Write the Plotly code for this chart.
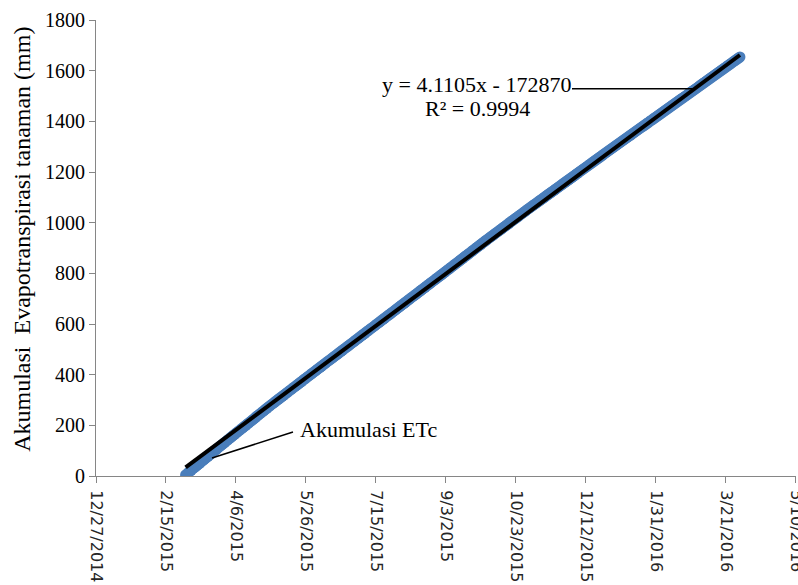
import numpy as np
import pandas as pd
import plotly.graph_objects as go

# Daily crop evapotranspiration (mm/day), one list per month
etc_2015_03 = [4.1, 4.6, 4.9, 4.4, 4.7, 5.0, 4.5, 4.2, 4.8, 4.6, 4.3, 4.9, 4.7, 4.5, 4.4, 4.8,
               4.6, 4.2, 4.7, 4.9, 4.5, 4.6, 4.3, 4.8, 4.7, 4.4, 4.6, 4.5, 4.9, 4.4, 4.6]
etc_2015_04 = [4.3, 4.6, 4.5, 4.7, 4.2, 4.5, 4.6, 4.4, 4.2, 4.5, 4.7, 4.4, 4.5, 4.2, 4.7,
               4.3, 4.6, 4.5, 4.4, 4.7, 4.5, 4.2, 4.6, 4.4, 4.7, 4.3, 4.5, 4.6, 4.2, 4.5]
etc_2015_05 = [4.4, 4.1, 4.3, 4.2, 4.5, 4.0, 4.3, 4.2, 4.4, 4.1, 4.3, 4.2, 4.0, 4.5, 4.3, 4.2,
               4.4, 4.1, 4.2, 4.3, 4.1, 4.4, 4.2, 4.3, 4.5, 4.1, 4.2, 4.3, 4.0, 4.4, 4.3]
etc_2015_06 = [4.1, 4.3, 4.2, 4.0, 4.4, 4.2, 4.3, 4.1, 4.2, 4.4, 4.0, 4.2, 4.2, 4.0, 4.3,
               4.1, 4.2, 4.4, 4.4, 4.2, 4.1, 4.3, 4.0, 4.2, 4.0, 4.3, 4.2, 4.2, 4.4, 4.1]
etc_2015_07 = [4.2, 4.3, 4.1, 4.4, 4.2, 4.1, 4.3, 4.0, 4.4, 4.2, 4.3, 4.1, 4.1, 4.4, 4.2, 4.0,
               4.3, 4.3, 4.4, 4.2, 4.1, 4.3, 4.1, 4.2, 4.2, 4.1, 4.3, 4.4, 4.0, 4.3, 4.3]
etc_2015_08 = [4.3, 4.1, 4.2, 4.4, 4.0, 4.3, 4.2, 4.4, 4.1, 4.3, 4.2, 4.1, 4.0, 4.3, 4.4, 4.2,
               4.1, 4.3, 4.3, 4.2, 4.0, 4.4, 4.3, 4.1, 4.1, 4.4, 4.2, 4.3, 4.2, 4.1, 4.2]
etc_2015_09 = [4.3, 4.2, 4.4, 4.1, 4.3, 4.3, 4.2, 4.4, 4.3, 4.2, 4.1, 4.4, 4.4, 4.1, 4.2,
               4.3, 4.4, 4.2, 4.1, 4.3, 4.4, 4.2, 4.3, 4.3, 4.3, 4.2, 4.1, 4.4, 4.2, 4.4]
etc_2015_10 = [4.2, 4.0, 4.1, 4.3, 4.1, 4.0, 4.1, 4.2, 3.9, 4.2, 4.1, 4.2, 4.0, 4.3, 4.1, 4.0,
               4.2, 4.1, 4.3, 4.0, 4.2, 4.1, 3.9, 4.2, 4.1, 4.1, 4.0, 4.3, 4.2, 4.0, 4.2]
etc_2015_11 = [4.1, 3.9, 4.0, 4.2, 3.8, 4.0, 3.9, 4.1, 4.0, 3.8, 4.1, 4.1, 4.0, 4.2, 3.9,
               4.0, 3.9, 4.0, 3.8, 4.0, 4.1, 4.1, 4.0, 4.0, 4.2, 3.9, 4.0, 3.9, 4.0, 4.0]
etc_2015_12 = [4.0, 4.1, 3.9, 4.0, 4.2, 3.8, 4.1, 3.9, 4.0, 4.1, 3.9, 4.0, 3.8, 4.2, 4.0, 3.9,
               4.1, 4.0, 4.0, 3.9, 4.1, 4.0, 3.8, 4.2, 4.1, 4.0, 3.9, 4.0, 4.1, 3.9, 4.0]
etc_2016_01 = [3.9, 4.0, 3.8, 4.1, 3.9, 3.9, 4.0, 3.8, 3.9, 4.0, 3.9, 4.0, 3.8, 4.1, 3.9, 3.9,
               4.0, 3.9, 4.0, 3.9, 4.0, 3.8, 3.9, 4.0, 3.9, 3.9, 4.1, 3.8, 4.0, 3.9, 3.9]
etc_2016_02 = [3.9, 4.0, 3.8, 3.9, 4.1, 3.9, 3.8, 4.0, 3.9, 4.0, 3.9, 4.0, 4.0, 3.9, 4.1,
               3.8, 3.9, 3.9, 3.9, 3.8, 4.0, 3.9, 4.0, 4.0, 3.9, 4.0, 3.8, 4.0, 3.9]
etc_2016_03 = [4.0, 3.9, 4.1, 3.9, 4.0, 3.9, 3.8, 4.1, 4.0, 3.9, 4.0, 4.0, 4.1, 3.9, 3.9, 4.0,
               3.8, 4.1, 3.9, 4.0, 4.0, 4.1, 3.9, 3.9, 4.0, 4.1, 3.8, 4.0, 3.9, 4.0, 4.0]

start_date = "2015-03-01"
end_date = "2016-03-31"

# Linear trendline (x in spreadsheet date serial numbers)
trend_slope = 4.1105
trend_intercept = -172870
r_squared = 0.9994

y_ticks = [0, 200, 400, 600, 800, 1000, 1200, 1400, 1600, 1800]

daily = np.concatenate([etc_2015_03, etc_2015_04, etc_2015_05, etc_2015_06, etc_2015_07,
                        etc_2015_08, etc_2015_09, etc_2015_10, etc_2015_11, etc_2015_12,
                        etc_2016_01, etc_2016_02, etc_2016_03])
dates = pd.date_range(start_date, end_date, freq="D")
cum_etc = np.cumsum(daily)

serial = np.asarray((dates - pd.Timestamp("1899-12-30")).days, dtype=float)
trend = trend_slope * serial + trend_intercept

serif = "Liberation Serif, Times New Roman, serif"
axis_grey = "#868686"

fig = go.Figure()
fig.add_trace(go.Scatter(
    x=dates, y=cum_etc, mode="markers", name="Akumulasi ETc",
    marker=dict(size=11, color="#4A7EBB", line=dict(width=0)),
))
fig.add_trace(go.Scatter(
    x=[dates[0], dates[-1]], y=[trend[0], trend[-1]], mode="lines",
    line=dict(color="black", width=4), name="Linear",
))

fig.update_layout(
    width=798, height=585,
    margin=dict(l=96, r=2, t=20, b=109, autoexpand=False),
    paper_bgcolor="white", plot_bgcolor="white",
    showlegend=False,
    xaxis=dict(
        type="date",
        # a small pad past the last tick so it is still drawn
        range=["2014-12-27", "2016-05-10 01:00"],
        tick0="2014-12-27", dtick=50 * 86400000,
        tickformat="%-m/%-d/%Y", tickangle=90,
        ticks="outside", ticklen=6, tickcolor=axis_grey,
        ticklabelstandoff=4, ticklabeloverflow="allow",
        automargin=False,
        showline=True, linecolor=axis_grey, linewidth=1,
        showgrid=False, zeroline=False,
        tickfont=dict(family="DejaVu Sans", size=16, color="#262626"),
    ),
    yaxis=dict(
        range=[0, 1800], tickvals=y_ticks,
        ticks="outside", ticklen=6, tickcolor=axis_grey,
        automargin=False,
        showline=True, linecolor=axis_grey, linewidth=1,
        showgrid=False, zeroline=False,
        tickfont=dict(family=serif, size=20, color="black"),
    ),
)

fig.add_annotation(
    text="Akumulasi\u00a0 Evapotranspirasi tanaman (mm)",
    xref="paper", yref="paper", x=-0.1057, y=0.518,
    textangle=-90, showarrow=False, xanchor="center", yanchor="middle",
    font=dict(family=serif, size=24, color="black"),
)
fig.add_annotation(
    text=f"y = {trend_slope}x - {abs(trend_intercept)}",
    xref="paper", yref="paper", x=0.5436, y=0.8596,
    showarrow=False, xanchor="center", yanchor="middle",
    font=dict(family=serif, size=22, color="black"),
)
fig.add_annotation(
    text=f"R² = {r_squared}",
    xref="paper", yref="paper", x=0.545, y=0.807,
    showarrow=False, xanchor="center", yanchor="middle",
    font=dict(family=serif, size=22, color="black"),
)
fig.add_annotation(
    text="Akumulasi ETc",
    xref="paper", yref="paper", x=0.2886, y=0.1009,
    showarrow=False, xanchor="left", yanchor="middle",
    font=dict(family=serif, size=22, color="black"),
)

# Leader lines for the equation label and the series label
fig.add_shape(type="line", xref="paper", yref="paper",
              x0=0.68, y0=0.849, x1=0.854, y1=0.849,
              line=dict(color="black", width=1.5))
fig.add_shape(type="line", xref="paper", yref="paper",
              x0=0.2814, y0=0.0965, x1=0.1657, y1=0.0395,
              line=dict(color="black", width=1.5))

fig.write_html("out.html")
